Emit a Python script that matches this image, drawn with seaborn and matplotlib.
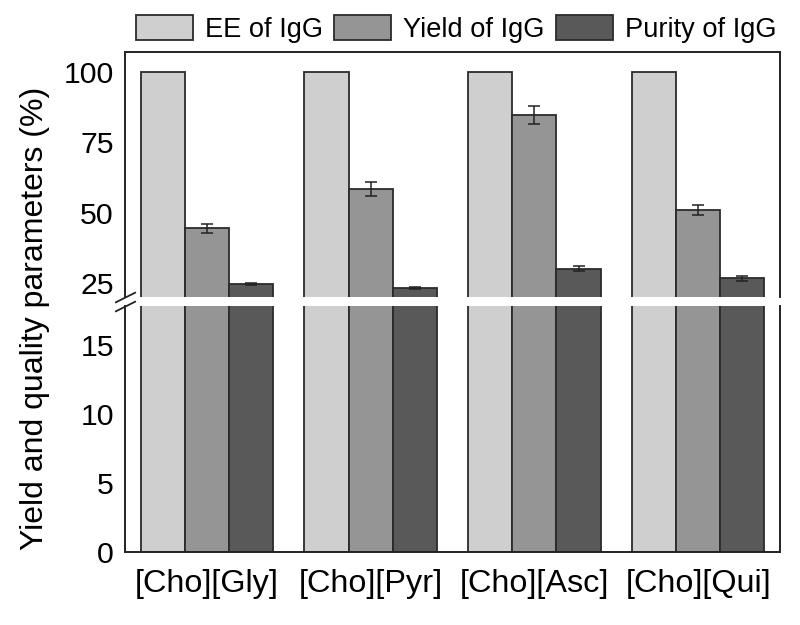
import matplotlib
matplotlib.use("Agg")
import matplotlib.pyplot as plt
from matplotlib.patches import Patch
import seaborn as sns
import pandas as pd

categories = ['[Cho][Gly]', '[Cho][Pyr]', '[Cho][Asc]', '[Cho][Qui]']
series = ['EE of IgG', 'Yield of IgG', 'Purity of IgG']
ee_values = [100, 100, 100, 100]
yield_values = [44.5, 58.4, 84.6, 51.0]
purity_values = [24.6, 23.3, 30.0, 26.7]
ee_err = [0, 0, 0, 0]
yield_err = [1.6, 2.6, 3.2, 1.8]
purity_err = [0.5, 0.4, 0.9, 0.9]
colors = ['#cfcfcf', '#959595', '#595959']

values = [ee_values, yield_values, purity_values]
errors = [ee_err, yield_err, purity_err]
rows = []
for s, vals, errs in zip(series, values, errors):
    for c, v, e in zip(categories, vals, errs):
        rows.append({'cat': c, 'param': s, 'value': v, 'err': e})
df = pd.DataFrame(rows)

sns.set_style('white')
plt.rcParams['font.family'] = ['Liberation Sans', 'DejaVu Sans']
plt.rcParams['text.color'] = 'black'
plt.rcParams['xtick.color'] = 'black'
plt.rcParams['ytick.color'] = 'black'
plt.rcParams['axes.labelcolor'] = 'black'

fig = plt.figure(figsize=(8, 6.25), dpi=100)
W, H = 800, 625
left, right = 125 / W, 780 / W
ax_top = fig.add_axes([left, 1 - 297 / H, right - left, (297 - 52) / H])
ax_bot = fig.add_axes([left, 1 - 552 / H, right - left, (552 - 306) / H])

palette = dict(zip(series, colors))
edge = '#2b2b2b'
for ax in (ax_top, ax_bot):
    sns.barplot(data=df, x='cat', y='value', hue='param', order=categories,
                hue_order=series, palette=palette, width=0.81, ax=ax,
                edgecolor=edge, linewidth=1.3, saturation=1, legend=False,
                errorbar=None)
    for cont, s in zip(ax.containers, series):
        sub = df[df['param'] == s].set_index('cat').loc[categories]
        xs = [b.get_x() + b.get_width() / 2 for b in cont]
        hs = [b.get_height() for b in cont]
        errs = list(sub['err'])
        xe = [x for x, e in zip(xs, errs) if e > 0]
        he = [h for h, e in zip(hs, errs) if e > 0]
        ee_ = [e for e in errs if e > 0]
        if xe:
            ax.errorbar(xe, he, yerr=ee_, fmt='none', ecolor='#222222',
                        elinewidth=1.1, capsize=4, capthick=1.1, zorder=5)
    ax.set_xlim(-0.5, 3.5)
    ax.set_xlabel('')
    ax.set_ylabel('')
    for sp in ax.spines.values():
        sp.set_color('#222222')
        sp.set_linewidth(1.4)

ax_top.set_ylim(20, 107)
ax_top.set_yticks([25, 50, 75, 100])
ax_bot.set_ylim(0, 17.8)
ax_bot.set_yticks([0, 5, 10, 15])

ax_top.spines['bottom'].set_visible(False)
ax_bot.spines['top'].set_visible(False)
ax_top.set_xticks([])
ax_top.tick_params(axis='y', length=0, pad=8, labelsize=21.8)
ax_bot.tick_params(axis='y', length=0, pad=8, labelsize=21.8)
ax_bot.tick_params(axis='x', length=0, pad=12, labelsize=23.3)

# break marks
d = 0.5
kw = dict(marker=[(-1, -d), (1, d)], markersize=15, linestyle='none',
          color='#222222', mec='#222222', mew=1.3, clip_on=False)
ax_top.plot([0], [0], transform=ax_top.transAxes, **kw)
ax_bot.plot([0], [1], transform=ax_bot.transAxes, **kw)

fig.text(35 / W, 1 - 318 / H, 'Yield and quality parameters (%)',
         rotation=90, ha='center', va='center', fontsize=23)

handles = [Patch(facecolor=c, edgecolor=edge, linewidth=1.3) for c in colors]
fig.legend(handles, series, loc='center', bbox_to_anchor=(456 / W, 1 - 29 / H),
           ncol=3, frameon=False, fontsize=19.6, handlelength=2.1,
           handleheight=1.05, handletextpad=0.45, columnspacing=0.4,
           borderpad=0, borderaxespad=0)

fig.savefig('out.png', dpi=100)
